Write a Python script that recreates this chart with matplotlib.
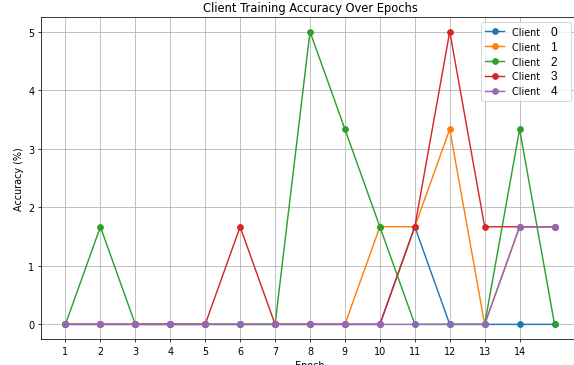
import matplotlib
matplotlib.use("Agg")
import matplotlib.pyplot as plt
from matplotlib.offsetbox import TextArea

# accuracy per client for each epoch
epochs = list(range(1, 16))
client_0 = [0, 0, 0, 0, 0, 0, 0, 0, 0, 0, 1.667, 0, 0, 0, 0]
client_1 = [0, 0, 0, 0, 0, 0, 0, 0, 0, 1.667, 1.667, 3.333, 0, 1.667, 1.667]
client_2 = [0, 1.667, 0, 0, 0, 0, 0, 5, 3.333, 1.667, 0, 0, 0, 3.333, 0]
client_3 = [0, 0, 0, 0, 0, 1.667, 0, 0, 0, 0, 1.667, 5, 1.667, 1.667, 1.667]
client_4 = [0, 0, 0, 0, 0, 0, 0, 0, 0, 0, 0, 0, 0, 1.667, 1.667]
labels = ["0", "1", "2", "3", "4"]
xticks = list(range(1, 15))

dpi = 69
fig = plt.figure(figsize=(574 / dpi, 366 / dpi), dpi=dpi)
ax = fig.add_axes([41 / 574, 26 / 366, 538 / 574, 322 / 366])

for vals in [client_0, client_1, client_2, client_3, client_4]:
    ax.plot(epochs, vals, marker="o", label="Client ")

ax.set_title("Client Training Accuracy Over Epochs")
ax.set_xlabel("Epoch")
ax.set_ylabel("Accuracy (%)")
ax.set_xticks(xticks)
leg = ax.legend(loc="upper right", bbox_to_anchor=(0.985, 0.9845),
                borderaxespad=0, labelspacing=0.3)
ax.grid(True)

# client number sits in each legend row in a different font, like the original
rows = [row for col in leg._legend_handle_box.get_children() for row in col.get_children()]
for row, lab in zip(rows, labels):
    ta = TextArea(lab + "   ", textprops=dict(fontsize=12.4, family="Liberation Sans", color="black"))
    ta.set_figure(fig)
    ta._text.set_figure(fig)
    row.get_children().append(ta)

fig.savefig("out.png", dpi=dpi)
